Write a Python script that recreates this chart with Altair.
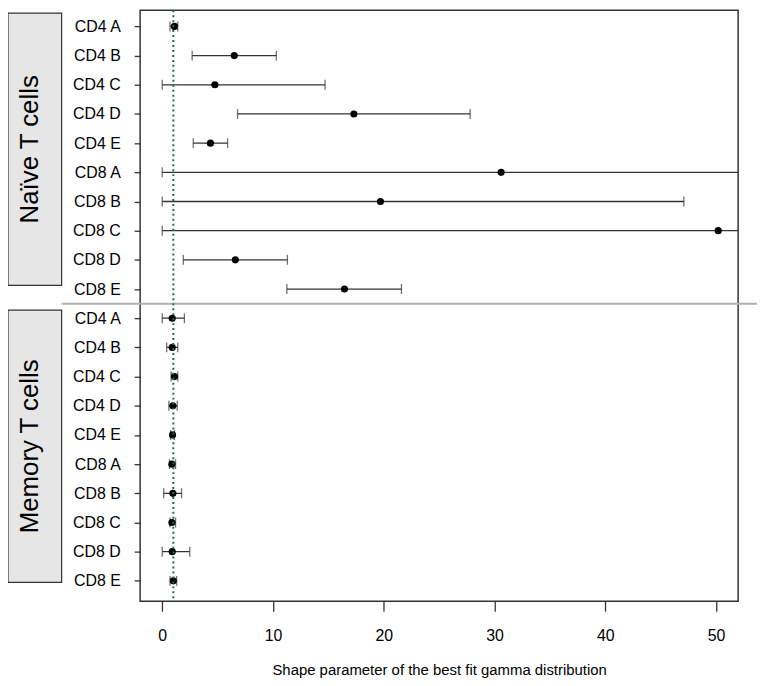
import altair as alt
import pandas as pd

cells = ["CD4 A", "CD4 B", "CD4 C", "CD4 D", "CD4 E",
         "CD8 A", "CD8 B", "CD8 C", "CD8 D", "CD8 E"]

naive_est = [1.1, 6.5, 4.75, 17.3, 4.35, 30.6, 19.7, 50.2, 6.6, 16.45]
naive_lo = [0.7, 2.7, 0.0, 6.8, 2.8, 0.0, 0.0, 0.0, 1.9, 11.25]
naive_hi = [1.4, 10.3, 14.7, 27.8, 5.9, 80.0, 47.1, 80.0, 11.3, 21.6]

memory_est = [0.9, 0.9, 1.1, 0.96, 0.93, 0.87, 0.96, 0.87, 0.9, 1.0]
memory_lo = [0.0, 0.4, 0.8, 0.6, 0.75, 0.65, 0.13, 0.7, 0.0, 0.7]
memory_hi = [2.0, 1.4, 1.4, 1.35, 1.1, 1.2, 1.74, 1.2, 2.48, 1.3]

labels = cells + cells
df = pd.DataFrame({
    "row": list(range(1, 21)),
    "label": labels,
    "est": naive_est + memory_est,
    "lo": naive_lo + memory_lo,
    "hi": naive_hi + memory_hi,
})

FONT = "Liberation Sans"
xscale = alt.Scale(domain=[-2, 52], nice=False, zero=False)
yscale = alt.Scale(domain=[0.445, 20.70], reverse=True, nice=False, zero=False)
label_arr = "[" + ",".join("'" + l + "'" for l in labels) + "]"

xaxis = alt.Axis(values=[0, 10, 20, 30, 40, 50],
                 title="Shape parameter of the best fit gamma distribution",
                 tickSize=10, labelPadding=16, titlePadding=20, labelFontSize=16,
                 titleFontSize=15, titleFontWeight="normal", labelFont=FONT, titleFont=FONT,
                 domain=False, grid=False, tickColor="#333333", labelColor="black",
                 titleColor="black", tickWidth=1.3, labelOverlap=False)
yaxis = alt.Axis(values=list(range(1, 21)), labelExpr=label_arr + "[datum.value-1]",
                 title=None, tickSize=6, labelPadding=14, labelFontSize=16, labelFont=FONT,
                 domain=False, grid=False, tickColor="#333333", labelColor="black",
                 tickWidth=1.3, labelOverlap=False)


def X(f):
    return alt.X(f, scale=xscale, axis=xaxis)


def Y(f):
    return alt.Y(f, scale=yscale, axis=yaxis)


base = alt.Chart(df)

bars = base.mark_rule(color="#333333", strokeWidth=1.3, clip=True).encode(
    x=X("lo:Q"), x2="hi:Q", y=Y("row:Q"))

cap_lo = base.mark_tick(orient="vertical", size=10, thickness=1.3, color="#333333", clip=True).encode(
    x=X("lo:Q"), y=Y("row:Q"))
cap_hi = base.mark_tick(orient="vertical", size=10, thickness=1.3, color="#333333", clip=True).encode(
    x=X("hi:Q"), y=Y("row:Q"))

pts = base.mark_circle(size=52, color="black", opacity=1).encode(
    x=X("est:Q"), y=Y("row:Q"))

one = alt.Data(values=[{"a": 1}])

vline = alt.Chart(one).mark_rule(color="#1d6b5a", strokeWidth=2, strokeDash=[2, 3]).encode(
    x=alt.datum(1, scale=xscale, axis=xaxis))

sep = alt.Chart(one).mark_rule(color="#b0b0b0", strokeWidth=2).encode(
    x=alt.value(-79), x2=alt.value(621), y=alt.datum(10.5, scale=yscale, axis=yaxis))

box1 = alt.Chart(one).mark_rect(fill="#e6e6e6", stroke="#333333", strokeWidth=1.2).encode(
    x=alt.value(-133), x2=alt.value(-79), y=alt.value(3), y2=alt.value(277))
box2 = alt.Chart(one).mark_rect(fill="#e6e6e6", stroke="#333333", strokeWidth=1.2).encode(
    x=alt.value(-133), x2=alt.value(-79), y=alt.value(302), y2=alt.value(576))

t1 = alt.Chart(one).mark_text(angle=270, fontSize=26, font=FONT, color="black",
                              align="center", baseline="alphabetic").encode(
    x=alt.value(-103), y=alt.value(140), text=alt.value("Naïve T cells"))
t2 = alt.Chart(one).mark_text(angle=270, fontSize=26, font=FONT, color="black",
                              align="center", baseline="alphabetic").encode(
    x=alt.value(-103), y=alt.value(439), text=alt.value("Memory T cells"))

chart = alt.layer(box1, box2, t1, t2, sep, bars, cap_lo, cap_hi, pts, vline).properties(
    width=602, height=595,
    autosize=alt.AutoSizeParams(type="none"),
    padding={"left": 133, "top": 0, "right": 19, "bottom": 75},
    background="white",
).configure_view(stroke="#333333", strokeWidth=1.5)

chart.save("out.html", embed_options={"renderer": "svg", "actions": False})
